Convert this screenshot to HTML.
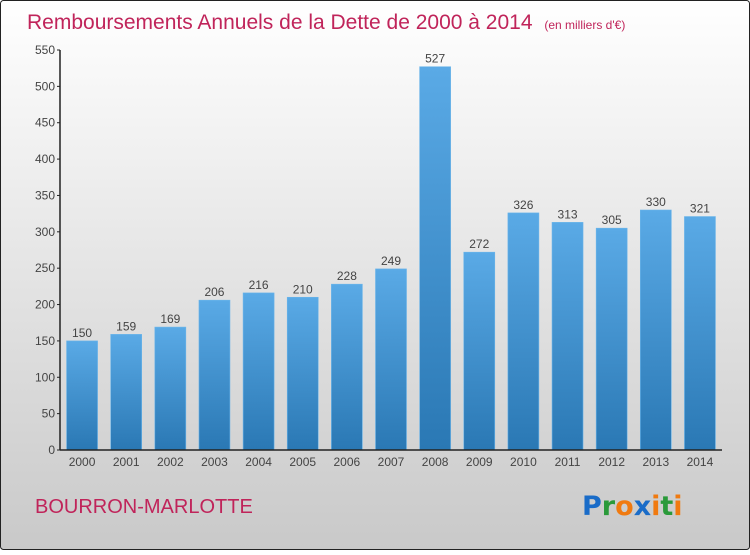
<!DOCTYPE html>
<html><head><meta charset="utf-8"><style>
body{margin:0;width:750px;height:550px;overflow:hidden;font-family:"Liberation Sans",sans-serif}
</style></head><body>
<svg width="750" height="550" xmlns="http://www.w3.org/2000/svg">
<defs>
<linearGradient id="bg" x1="0" y1="0" x2="0" y2="1"><stop offset="0" stop-color="#ffffff"/><stop offset="1" stop-color="#c9c9c9"/></linearGradient>
<linearGradient id="bar" x1="0" y1="0" x2="0" y2="1"><stop offset="0" stop-color="#5aaae6"/><stop offset="1" stop-color="#2a78b4"/></linearGradient>
</defs>
<rect x="0.5" y="0.5" width="749" height="549" rx="3" fill="url(#bg)" stroke="#222"/>
<text x="27" y="29" font-size="21" fill="#c0245a">Remboursements Annuels de la Dette de 2000 à 2014 <tspan font-size="12" dx="6">(en milliers d'€)</tspan></text>
<g id="plot"></g>
<text x="35" y="513" font-size="20" fill="#c0245a">BOURRON-MARLOTTE</text>
<text x="582" y="515" font-size="27" font-weight="bold" font-family="'DejaVu Sans',sans-serif"><tspan fill="#1a6cc8">P</tspan><tspan fill="#2a9a3a">r</tspan><tspan fill="#f07a10">o</tspan><tspan fill="#1a6cc8">x</tspan><tspan fill="#f07a10">i</tspan><tspan fill="#2a9a3a">t</tspan><tspan fill="#f07a10">i</tspan></text>
</svg>
<script>
const categories=["2000","2001","2002","2003","2004","2005","2006","2007","2008","2009","2010","2011","2012","2013","2014"];
const values=[150,159,169,206,216,210,228,249,527,272,326,313,305,330,321];
const yTicks=[0,50,100,150,200,250,300,350,400,450,500,550];
const NS="http://www.w3.org/2000/svg";
const g=document.getElementById('plot');
const x0=60,x1=722,y0=450,y1=50,ymax=550;
const band=(x1-x0)/categories.length;
const yS=v=>y0-(v/ymax)*(y0-y1);
const xC=i=>x0+band*(i+0.5);
function mk(t,a){const e=document.createElementNS(NS,t);for(const k in a)e.setAttribute(k,a[k]);g.appendChild(e);return e;}
yTicks.forEach(v=>{
  const l=mk('line',{x1:x0-3,x2:x0,y1:yS(v),y2:yS(v),stroke:'#222'});
  
  
  const t=mk('text',{x:x0-5,y:yS(v)+4,'font-size':12,'text-anchor':'end',fill:'#444'});
  t.textContent=v;
  
  
});
values.forEach((v,i)=>{
  const r=mk('rect',{x:xC(i)-15.5,y:yS(v),width:31,height:y0-yS(v),fill:'url(#bar)',stroke:'#6bb5ea','stroke-width':0.6});
  
  
  const t=mk('text',{x:xC(i),y:yS(v)-4,'font-size':12,'text-anchor':'middle',fill:'#444'});
  t.textContent=v;
  
  
  const c=mk('text',{x:xC(i),y:y0+16,'font-size':12,'text-anchor':'middle',fill:'#444'});
  c.textContent=categories[i];
  
  
});
const ya=mk('line',{x1:x0,x2:x0,y1:y1,y2:y0,stroke:'#222','stroke-width':1.5});


const xa=mk('line',{x1:x0,x2:x1,y1:y0,y2:y0,stroke:'#222','stroke-width':1.5});


</script>
</body></html>
